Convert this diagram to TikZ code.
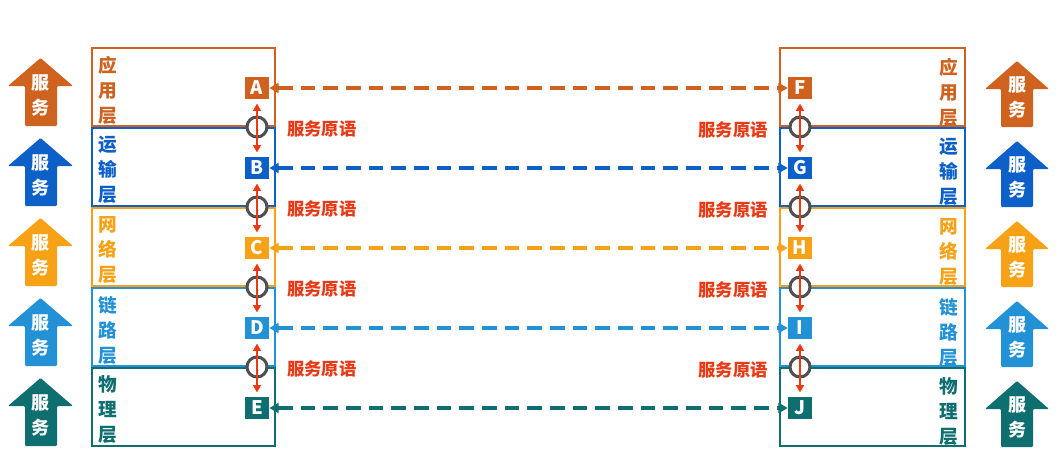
\documentclass[tikz,border=0pt]{standalone}
\usepackage{fontspec}
\setmainfont{Noto Sans CJK SC}
\usetikzlibrary{arrows.meta, positioning, calc}
\definecolor{appcol}{RGB}{207,98,30}
\definecolor{trncol}{RGB}{12,96,200}
\definecolor{netcol}{RGB}{246,161,22}
\definecolor{lnkcol}{RGB}{34,145,214}
\definecolor{phycol}{RGB}{14,110,112}
\definecolor{primcol}{RGB}{232,58,22}
\definecolor{ringcol}{RGB}{80,80,80}

\begin{document}
\begin{tikzpicture}[x=0.75pt,y=-0.75pt,font=\bfseries,
  letterbox/.style={minimum width=18pt,minimum height=17pt,inner sep=0pt,text=white,font=\bfseries\fontsize{14}{14}\selectfont},
  layertext/.style={align=center,inner sep=0pt,font=\bfseries\fontsize{14}{18.75}\selectfont},
  servtext/.style={align=center,inner sep=0pt,text=white,font=\bfseries\fontsize{13.5}{18.75}\selectfont},
  primtext/.style={text=primcol,inner sep=0pt,font=\bfseries\fontsize{13}{13}\selectfont},
  ring/.style={circle,draw=ringcol,line width=2.3pt,fill=white,minimum size=15pt,inner sep=0pt},
  peer/.style={line width=2.6pt,dash pattern=on 11pt off 6pt,{Triangle[length=7pt,width=7.5pt]}-{Triangle[length=7pt,width=7.5pt]}},
  prim/.style={primcol,line width=1.7pt,{Triangle[length=5.5pt,width=6pt]}-{Triangle[length=5.5pt,width=6pt]},shorten <=3pt,shorten >=3pt}]

\useasboundingbox (0,0) rectangle (1059,457);

% --- Strati: riquadri, nomi, entita' e frecce di servizio
\foreach \i/\col/\lay/\lname/\rname in {0/appcol/{应\\用\\层}/A/F, 1/trncol/{运\\输\\层}/B/G, 2/netcol/{网\\络\\层}/C/H, 3/lnkcol/{链\\路\\层}/D/I, 4/phycol/{物\\理\\层}/E/J}{
  \draw[\col,line width=1.9pt] (92,{48+80*\i}) rectangle (275,{126+80*\i});
  \draw[\col,line width=1.9pt] (780,{48+80*\i}) rectangle (965,{126+80*\i});
  \node[layertext,text=\col] (tl\i) at (108,{90+80*\i}) {\lay};
  \node[layertext,text=\col] (tr\i) at (949,{92+80*\i}) {\lay};
  \node[letterbox,fill=\col] (\lname) at (257,{88+80*\i}) {\lname};
  \node[letterbox,fill=\col] (\rname) at (800,{88+80*\i}) {\rname};
  \draw[peer,\col] (\lname) -- (\rname);

  % frecce "servizio"
  \fill[\col,rounded corners=0.8pt] (40.5,{58+80*\i}) -- (73,{86+80*\i}) -- (57,{86+80*\i})
    -- (57,{126+80*\i}) -- (25,{126+80*\i}) -- (25,{86+80*\i}) -- (8,{86+80*\i}) -- cycle;
  \fill[\col,rounded corners=0.8pt] (1017,{61+80*\i}) -- (1049,{89+80*\i}) -- (1033,{89+80*\i})
    -- (1033,{127+80*\i}) -- (1001,{127+80*\i}) -- (1001,{89+80*\i}) -- (985,{89+80*\i}) -- cycle;
  \node[servtext] (sl\i) at (40.5,{95.5+80*\i}) {服\\务};
  \node[servtext] (sr\i) at (1017,{97.5+80*\i}) {服\\务};
}

% --- Primitive di servizio tra strati adiacenti
\foreach \i/\u/\v/\p/\q in {1/A/B/F/G, 2/B/C/G/H, 3/C/D/H/I, 4/D/E/I/J}{
  \node[ring] (rl\i) at (257,{47+80*\i}) {};
  \node[ring] (rr\i) at (800,{47+80*\i}) {};
  \draw[prim] (\u) -- (\v);
  \draw[prim] (\p) -- (\q);
  \node[primtext,anchor=west] (pl\i) at (287,{49+80*\i}) {服务原语};
  \node[primtext,anchor=east] (pr\i) at (768,{50+80*\i}) {服务原语};
}

\end{tikzpicture}
\end{document}
